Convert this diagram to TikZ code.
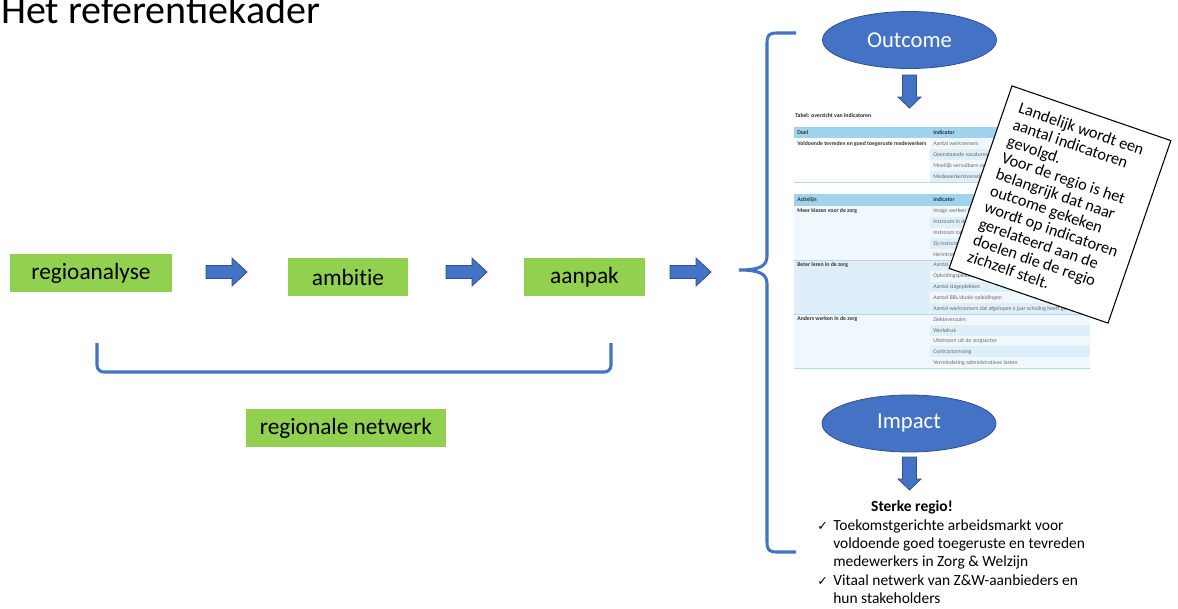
\documentclass[tikz,border=0pt]{standalone}
\usepackage{fontspec}
\setmainfont{Carlito}[Ligatures=NoCommon]
\newfontfamily\symfont{DejaVu Sans}
\usetikzlibrary{shapes.geometric}

\definecolor{boxgreen}{RGB}{146,208,80}
\definecolor{ppblue}{RGB}{68,114,196}
\definecolor{ppblueline}{RGB}{47,82,143}
\definecolor{hdrblue}{RGB}{160,212,238}
\definecolor{rowblue}{RGB}{222,239,249}
\definecolor{rowpale}{RGB}{241,248,253}
\definecolor{tblgrey}{RGB}{105,105,105}
\definecolor{tblline}{RGB}{180,215,236}

\begin{document}
\begin{tikzpicture}[x=0.75pt,y=-0.75pt]

  \tikzset{
    stap/.style={fill=boxgreen, inner sep=0pt, minimum height=28.5pt,
      font=\fontsize{17.5}{21}\selectfont},
    doelveld/.style={ellipse, fill=ppblue, draw=ppblueline, line width=0.6pt,
      inner sep=0pt, minimum width=130.5pt, minimum height=42.75pt,
      text=white, font=\fontsize{17}{20}\selectfont},
    blokpijl/.style={fill=ppblue, draw=ppblueline, line width=0.6pt},
    accolade/.style={draw=ppblue, line width=2.3pt},
    tbltekst/.style={inner sep=0pt, anchor=west, text=tblgrey,
      font=\fontsize{4.3}{4.8}\selectfont},
    tblkop/.style={tbltekst, text=black!80, font=\fontsize{4.3}{4.8}\selectfont\bfseries},
    notitie/.style={draw=black, fill=white, line width=0.8pt, minimum width=126pt,
      minimum height=144.75pt, align=left, font=\fontsize{12.3}{13.1}\selectfont},
    lijsttekst/.style={inner sep=0pt, align=left, font=\fontsize{11.6}{13.7}\selectfont},
  }
  \useasboundingbox (0,0) rectangle (1178,608);

  \node[anchor=base west, inner sep=0pt, font=\fontsize{30}{36}\selectfont\addfontfeatures{Ligatures=Common}] (titel) at (1,23) {Het referentiekader};

  % stappen
  \node[stap, minimum width=121.5pt] (regio) at (91,273) {regioanalyse};
  \node[stap, minimum width=90pt] (ambitie) at (348,277) {ambitie};
  \node[stap, minimum width=90.75pt] (aanpak) at (584.5,277) {aanpak};
  \node[stap, minimum width=150pt] (netwerk) at (346,428) {regionale netwerk};

  \foreach \ax in {206,446,670}
    \draw[blokpijl] (\ax,265.5) -- (\ax+26,265.5) -- (\ax+26,258) -- (\ax+41,272)
      -- (\ax+26,286) -- (\ax+26,278.5) -- (\ax,278.5) -- cycle;

  \draw[accolade, rounded corners=5pt] (97,343) -- (97,372) -- (611,372) -- (611,343);

  \draw[accolade] (796,33) -- (777,33) .. controls (769,33) and (767,35) .. (767,43)
    -- (767,256) .. controls (767,266) and (760,270) .. (739,270)
    .. controls (760,270) and (767,274) .. (767,284)
    -- (767,542) .. controls (767,550) and (769,552) .. (777,552) -- (796,552);

  % tabel
  \begin{scope}
    \clip (794,108) rectangle (1090,370);
    \node[tblkop, text=black!85] (tabeltitel) at (795,116) {Tabel: overzicht van indicatoren};
    \fill[hdrblue] (794,127) rectangle (1090,138);
    \node[tblkop] at (797,132.5) {Doel};
    \node[tblkop] at (933,132.5) {Indicator};
    \node[tblkop] at (797,143.5) {Voldoende tevreden en goed toegeruste medewerkers};
    \foreach \t [count=\i] in {Aantal werknemers, Openstaande vacatures,
        Moeilijk vervulbare vacatures, Medewerkerstevredenheid} {
      \ifodd\i \def\kleur{rowpale}\else\def\kleur{rowblue}\fi
      \fill[\kleur] (930,127+11*\i) rectangle (1090,138+11*\i);
      \node[tbltekst] at (933,132.5+11*\i) {\t};
    }
    \draw[tblline, line width=0.5pt] (794,182) -- (1090,182);

    \fill[hdrblue] (794,194) rectangle (1090,206);
    \node[tblkop] at (797,200) {Actielijn};
    \node[tblkop] at (933,200) {Indicator};
    \fill[rowpale] (794,206) rectangle (930,260);
    \fill[rowblue] (794,260) rectangle (930,314);
    \fill[rowpale] (794,314) rectangle (930,368);
    \foreach \t [count=\i] in {Imago werken in de zorg, Instroom in de opleidingen,
        Instroom naar werk, Zij-instromers, Herintreders, Aantal opleidingsplaatsen,
        Opleidingsplekken, Aantal stageplekken, Aantal BBL/duale opleidingen,
        Aantal werknemers dat afgelopen x jaar scholing heeft gevolgd,
        Ziekteverzuim, Werkdruk, Uitstroom uit de zorgsector, Contractomvang,
        Vermindering administratieve lasten} {
      \ifodd\i \def\kleur{rowpale}\else\def\kleur{rowblue}\fi
      \fill[\kleur] (930,195.2+10.8*\i) rectangle (1090,206+10.8*\i);
      \node[tbltekst] at (933,200.6+10.8*\i) {\t};
    }
    \node[tblkop] at (797,211.4) {Meer kiezen voor de zorg};
    \node[tblkop] at (797,265.4) {Beter leren in de zorg};
    \node[tblkop] at (797,319.4) {Anders werken in de zorg};
    \foreach \ly in {260,314,368}
      \draw[tblline, line width=0.5pt] (794,\ly) -- (1090,\ly);
  \end{scope}

  \node[notitie, rotate=-19] (notitie) at (1060,204.5) {Landelijk wordt een\\aantal indicatoren\\gevolgd.\\Voor de regio is het\\belangrijk dat naar\\outcome gekeken\\wordt op indicatoren\\gerelateerd aan de\\doelen die de regio\\zichzelf stelt.};

  % outcome en impact
  \node[doelveld] (outcome) at (909.5,40) {Outcome};
  \node[doelveld] (impact) at (909,423.5) {Impact};
  \foreach \ay in {75,457}
    \draw[blokpijl] (902.5,\ay) -- (916.5,\ay) -- (916.5,\ay+22) -- (921,\ay+22)
      -- (909.5,\ay+33) -- (898,\ay+22) -- (902.5,\ay+22) -- cycle;

  \node[anchor=base, inner sep=0pt, font=\fontsize{11.6}{13.7}\selectfont\bfseries] (sterk) at (912,511) {Sterke regio!};
  \node[anchor=base west, inner sep=0pt, font=\symfont\fontsize{9.5}{12}\selectfont] (vink1) at (817,530) {✓};
  \node[lijsttekst, anchor=north west] (punt1) at (833,519) {Toekomstgerichte arbeidsmarkt voor\\voldoende goed toegeruste en tevreden\\medewerkers in Zorg \& Welzijn};
  \node[anchor=base west, inner sep=0pt, font=\symfont\fontsize{9.5}{12}\selectfont] (vink2) at (817,585) {✓};
  \node[lijsttekst, anchor=north west] (punt2) at (833,574) {Vitaal netwerk van Z\&W-aanbieders en\\hun stakeholders};

\end{tikzpicture}
\end{document}
